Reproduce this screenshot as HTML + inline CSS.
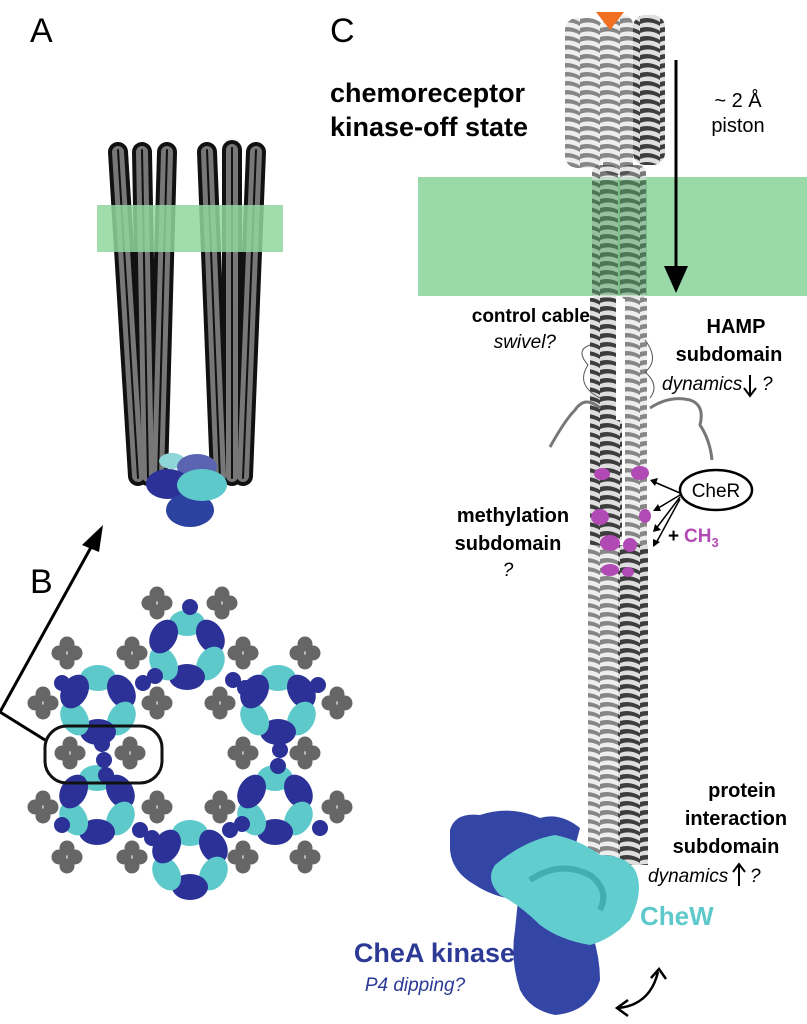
<!DOCTYPE html>
<html><head><meta charset="utf-8"><style>
html,body{margin:0;padding:0;background:#fff;}
svg{display:block;}
text{font-family:"Liberation Sans",sans-serif;}
</style></head><body>
<svg width="807" height="1024" viewBox="0 0 807 1024" xmlns="http://www.w3.org/2000/svg">
<defs>
<pattern id="hel" width="20" height="9" patternUnits="userSpaceOnUse">
<rect width="20" height="9" fill="#ddd"/>
<path d="M0 1 Q10 -2 20 4 L20 8 Q10 2 0 6Z" fill="#333"/>
</pattern>
<pattern id="hel2" width="20" height="9" patternUnits="userSpaceOnUse">
<rect width="20" height="9" fill="#eee"/>
<path d="M0 1 Q10 -2 20 4 L20 8 Q10 2 0 6Z" fill="#808080"/>
</pattern>
<g id="cl"><circle cx="-8" cy="0" r="7.5" fill="#666"/><circle cx="8" cy="0" r="7.5" fill="#666"/><circle cx="0" cy="-9" r="7.5" fill="#666"/><circle cx="0" cy="9" r="7.5" fill="#666"/></g>
<g id="ring">
<ellipse cx="0" cy="-27" rx="18" ry="13" fill="#5ec9cb"/>
<ellipse cx="0" cy="-27" rx="18" ry="13" fill="#2c3198" transform="rotate(60)"/>
<ellipse cx="0" cy="-27" rx="18" ry="13" fill="#5ec9cb" transform="rotate(120)"/>
<ellipse cx="0" cy="-27" rx="18" ry="13" fill="#2c3198" transform="rotate(180)"/>
<ellipse cx="0" cy="-27" rx="18" ry="13" fill="#5ec9cb" transform="rotate(240)"/>
<ellipse cx="0" cy="-27" rx="18" ry="13" fill="#2c3198" transform="rotate(300)"/>
</g>
</defs>

<text x="30" y="42" font-size="34">A</text>
<text x="30" y="593" font-size="34">B</text>
<text x="330" y="42" font-size="34">C</text>

<!-- Panel A rods -->
<g fill="none" stroke-linecap="round">
<g stroke="#111" stroke-width="20">
<path d="M118 152 L138 476"/><path d="M142 152 L148 476"/><path d="M167 152 L158 476"/>
<path d="M207 152 L220 476"/><path d="M232 150 L232 476"/><path d="M256 152 L243 476"/>
</g>
</g>
<g fill="none" stroke-linecap="round">
<g stroke="#777" stroke-width="12">
<path d="M118 152 L138 476"/><path d="M142 152 L148 476"/><path d="M167 152 L158 476"/>
<path d="M207 152 L220 476"/><path d="M232 150 L232 476"/><path d="M256 152 L243 476"/>
</g>
<g stroke="#111" stroke-width="2">
<path d="M118 150 L138 478"/><path d="M142 150 L148 478"/><path d="M167 150 L158 478"/>
<path d="M207 150 L220 478"/><path d="M232 148 L232 478"/><path d="M256 150 L243 478"/>
</g>
</g>
<rect x="97" y="205" width="186" height="47" fill="#8fd69e" opacity="0.85"/>
<ellipse cx="172" cy="461" rx="13" ry="8" fill="#8fd6d8"/>
<ellipse cx="197" cy="467" rx="20" ry="13" fill="#5a64b0"/>
<ellipse cx="168" cy="484" rx="22" ry="15" fill="#2c3198"/>
<ellipse cx="190" cy="510" rx="24" ry="17" fill="#2c42a0"/>
<ellipse cx="202" cy="485" rx="25" ry="16" fill="#5ec9cb"/>

<!-- arrow A<-B -->
<path d="M45 740 L0 712 L95 540" fill="none" stroke="#000" stroke-width="3"/>
<polygon points="103,525 82,545 99,552" fill="#000"/>

<!-- Panel B lattice -->
<g>
<use href="#cl" x="157" y="603"/><use href="#cl" x="222" y="603"/>
<use href="#cl" x="67" y="653"/><use href="#cl" x="132" y="653"/><use href="#cl" x="243" y="653"/><use href="#cl" x="305" y="653"/>
<use href="#cl" x="43" y="703"/><use href="#cl" x="157" y="703"/><use href="#cl" x="220" y="703"/><use href="#cl" x="337" y="703"/>
<use href="#cl" x="70" y="753"/><use href="#cl" x="130" y="753"/><use href="#cl" x="243" y="753"/><use href="#cl" x="305" y="753"/>
<use href="#cl" x="43" y="807"/><use href="#cl" x="157" y="807"/><use href="#cl" x="220" y="807"/><use href="#cl" x="337" y="807"/>
<use href="#cl" x="67" y="857"/><use href="#cl" x="132" y="857"/><use href="#cl" x="243" y="857"/><use href="#cl" x="305" y="857"/>
</g>
<use href="#ring" x="187" y="650"/>
<use href="#ring" x="98" y="705"/>
<use href="#ring" x="278" y="705"/>
<use href="#ring" x="97" y="805"/>
<use href="#ring" x="275" y="805"/>
<use href="#ring" x="190" y="860"/>
<g fill="#2c3198">
<circle cx="190" cy="607" r="8"/><circle cx="143" cy="683" r="8"/><circle cx="155" cy="676" r="8"/>
<circle cx="233" cy="680" r="8"/><circle cx="245" cy="688" r="8"/><circle cx="62" cy="683" r="8"/><circle cx="318" cy="685" r="8"/>
<circle cx="104" cy="760" r="8"/><circle cx="102" cy="744" r="8"/><circle cx="106" cy="775" r="8"/>
<circle cx="280" cy="750" r="8"/><circle cx="278" cy="766" r="8"/>
<circle cx="140" cy="830" r="8"/><circle cx="152" cy="838" r="8"/><circle cx="230" cy="830" r="8"/><circle cx="242" cy="824" r="8"/>
<circle cx="62" cy="825" r="8"/><circle cx="320" cy="828" r="8"/>
</g>
<rect x="45" y="726" width="117" height="57" rx="22" fill="none" stroke="#111" stroke-width="3"/>

<!-- Panel C membrane -->
<rect x="418" y="177" width="389" height="119" fill="#8fd69e" opacity="0.9"/>

<!-- protein column -->
<g opacity="0.95">
<rect x="565" y="18" width="38" height="150" rx="12" fill="url(#hel2)"/>
<rect x="603" y="15" width="30" height="160" rx="10" fill="url(#hel2)"/>
<rect x="633" y="15" width="32" height="150" rx="12" fill="url(#hel)"/>
<rect x="592" y="165" width="26" height="135" rx="8" fill="url(#hel)" opacity="0.7"/>
<rect x="620" y="165" width="26" height="135" rx="8" fill="url(#hel)" opacity="0.7"/>
<rect x="590" y="298" width="26" height="250" fill="url(#hel)"/>
<rect x="625" y="298" width="22" height="250" fill="url(#hel2)"/>
<rect x="600" y="420" width="22" height="120" fill="url(#hel)"/>
<rect x="588" y="545" width="30" height="320" fill="url(#hel2)"/>
<rect x="618" y="545" width="30" height="320" fill="url(#hel)"/>
</g>
<rect x="592" y="180" width="55" height="115" fill="#3f8a4d" opacity="0.35"/>
<polygon points="596,12 624,12 610,30" fill="#f07020"/>
<path d="M550 447 Q565 420 575 410 Q585 395 600 408 M650 408 Q670 395 690 400 Q705 405 700 425 Q710 440 712 460" fill="none" stroke="#777" stroke-width="3"/>
<path d="M590 345 Q575 350 588 365 Q575 385 600 398 M645 340 Q660 360 645 372 Q660 385 650 398" fill="none" stroke="#555" stroke-width="1"/>
<g fill="#b24ab5">
<ellipse cx="602" cy="474" rx="8" ry="6"/><ellipse cx="640" cy="473" rx="9" ry="7"/>
<ellipse cx="600" cy="517" rx="9" ry="8"/><ellipse cx="645" cy="516" rx="6" ry="7"/>
<ellipse cx="610" cy="543" rx="10" ry="8"/><ellipse cx="630" cy="545" rx="7" ry="7"/>
<ellipse cx="610" cy="570" rx="9" ry="6"/><ellipse cx="628" cy="572" rx="6" ry="5"/>
</g>

<line x1="676" y1="60" x2="676" y2="270" stroke="#000" stroke-width="3"/>
<polygon points="664,266 688,266 676,293" fill="#000"/>
<text x="738" y="107" font-size="20" text-anchor="middle">~ 2 Å</text>
<text x="738" y="132" font-size="20" text-anchor="middle">piston</text>

<text x="330" y="102" font-size="27" font-weight="bold">chemoreceptor</text>
<text x="330" y="136" font-size="27" font-weight="bold">kinase-off state</text>

<text x="590" y="322" font-size="19" font-weight="bold" text-anchor="end">control cable</text>
<text x="556" y="348" font-size="19" font-style="italic" text-anchor="end">swivel?</text>

<text x="736" y="333" font-size="20" font-weight="bold" text-anchor="middle">HAMP</text>
<text x="729" y="361" font-size="20" font-weight="bold" text-anchor="middle">subdomain</text>
<text x="662" y="390" font-size="19" font-style="italic">dynamics</text>
<path d="M750 375 L750 395 M744 388 L750 396 L756 388" stroke="#000" stroke-width="2" fill="none"/>
<text x="762" y="390" font-size="19" font-style="italic">?</text>

<ellipse cx="716" cy="490" rx="36" ry="20" fill="#fff" stroke="#000" stroke-width="2.5"/>
<text x="716" y="497" font-size="19" text-anchor="middle">CheR</text>
<g stroke="#000" stroke-width="1.5" fill="none">
<path d="M680 493 L652 481"/><path d="M680 495 L655 510"/><path d="M680 497 L655 530"/><path d="M680 499 L655 545"/>
</g>
<g fill="#000">
<polygon points="650,480 658,478 655,486"/><polygon points="653,511 658,504 661,511"/><polygon points="653,532 655,524 661,530"/><polygon points="653,547 653,539 660,542"/>
</g>
<text x="668" y="542" font-size="19" font-weight="bold">+</text>
<text x="684" y="542" font-size="19" font-weight="bold" fill="#b24ab5">CH<tspan font-size="13" dy="5">3</tspan></text>

<text x="513" y="522" font-size="20" font-weight="bold" text-anchor="middle">methylation</text>
<text x="508" y="550" font-size="20" font-weight="bold" text-anchor="middle">subdomain</text>
<text x="508" y="576" font-size="19" font-style="italic" text-anchor="middle">?</text>

<text x="742" y="797" font-size="20" font-weight="bold" text-anchor="middle">protein</text>
<text x="736" y="825" font-size="20" font-weight="bold" text-anchor="middle">interaction</text>
<text x="726" y="853" font-size="20" font-weight="bold" text-anchor="middle">subdomain</text>
<text x="648" y="882" font-size="19" font-style="italic">dynamics</text>
<path d="M739 886 L739 865 M733 872 L739 864 L745 872" stroke="#000" stroke-width="2" fill="none"/>
<text x="750" y="882" font-size="19" font-style="italic">?</text>

<!-- CheA / CheW -->
<path d="M450 830 Q455 812 480 815 Q510 805 540 818 Q560 812 580 828 L565 885 Q540 905 520 900 Q495 898 475 885 Q452 872 450 850Z" fill="#3346a6"/>
<path d="M520 880 Q545 870 570 890 Q600 935 600 980 Q590 1012 555 1015 Q530 1010 520 990 Q510 960 515 930Z" fill="#3346a6"/>
<path d="M495 865 Q525 840 555 835 Q580 840 600 855 Q625 855 635 870 Q645 890 630 920 Q610 940 590 945 Q560 940 540 925 Q520 905 500 895 Q485 880 495 865Z" fill="#62cdcf"/>
<path d="M530 880 Q560 860 590 875 Q610 890 600 910" fill="none" stroke="#2d9a9e" stroke-width="6" opacity="0.6"/>
<text x="640" y="925" font-size="26" font-weight="bold" fill="#5ec9cb">CheW</text>
<text x="515" y="962" font-size="27" font-weight="bold" fill="#2c3a96" text-anchor="end">CheA kinase</text>
<text x="415" y="991" font-size="19" font-style="italic" fill="#2c3a96" text-anchor="middle">P4 dipping?</text>
<path d="M618 1008 Q650 1005 658 972" fill="none" stroke="#000" stroke-width="2.5"/>
<path d="M628 1000 L617 1008 L628 1016 M651 978 L659 969 L666 979" fill="none" stroke="#000" stroke-width="2.5"/>
</svg>
</body></html>
